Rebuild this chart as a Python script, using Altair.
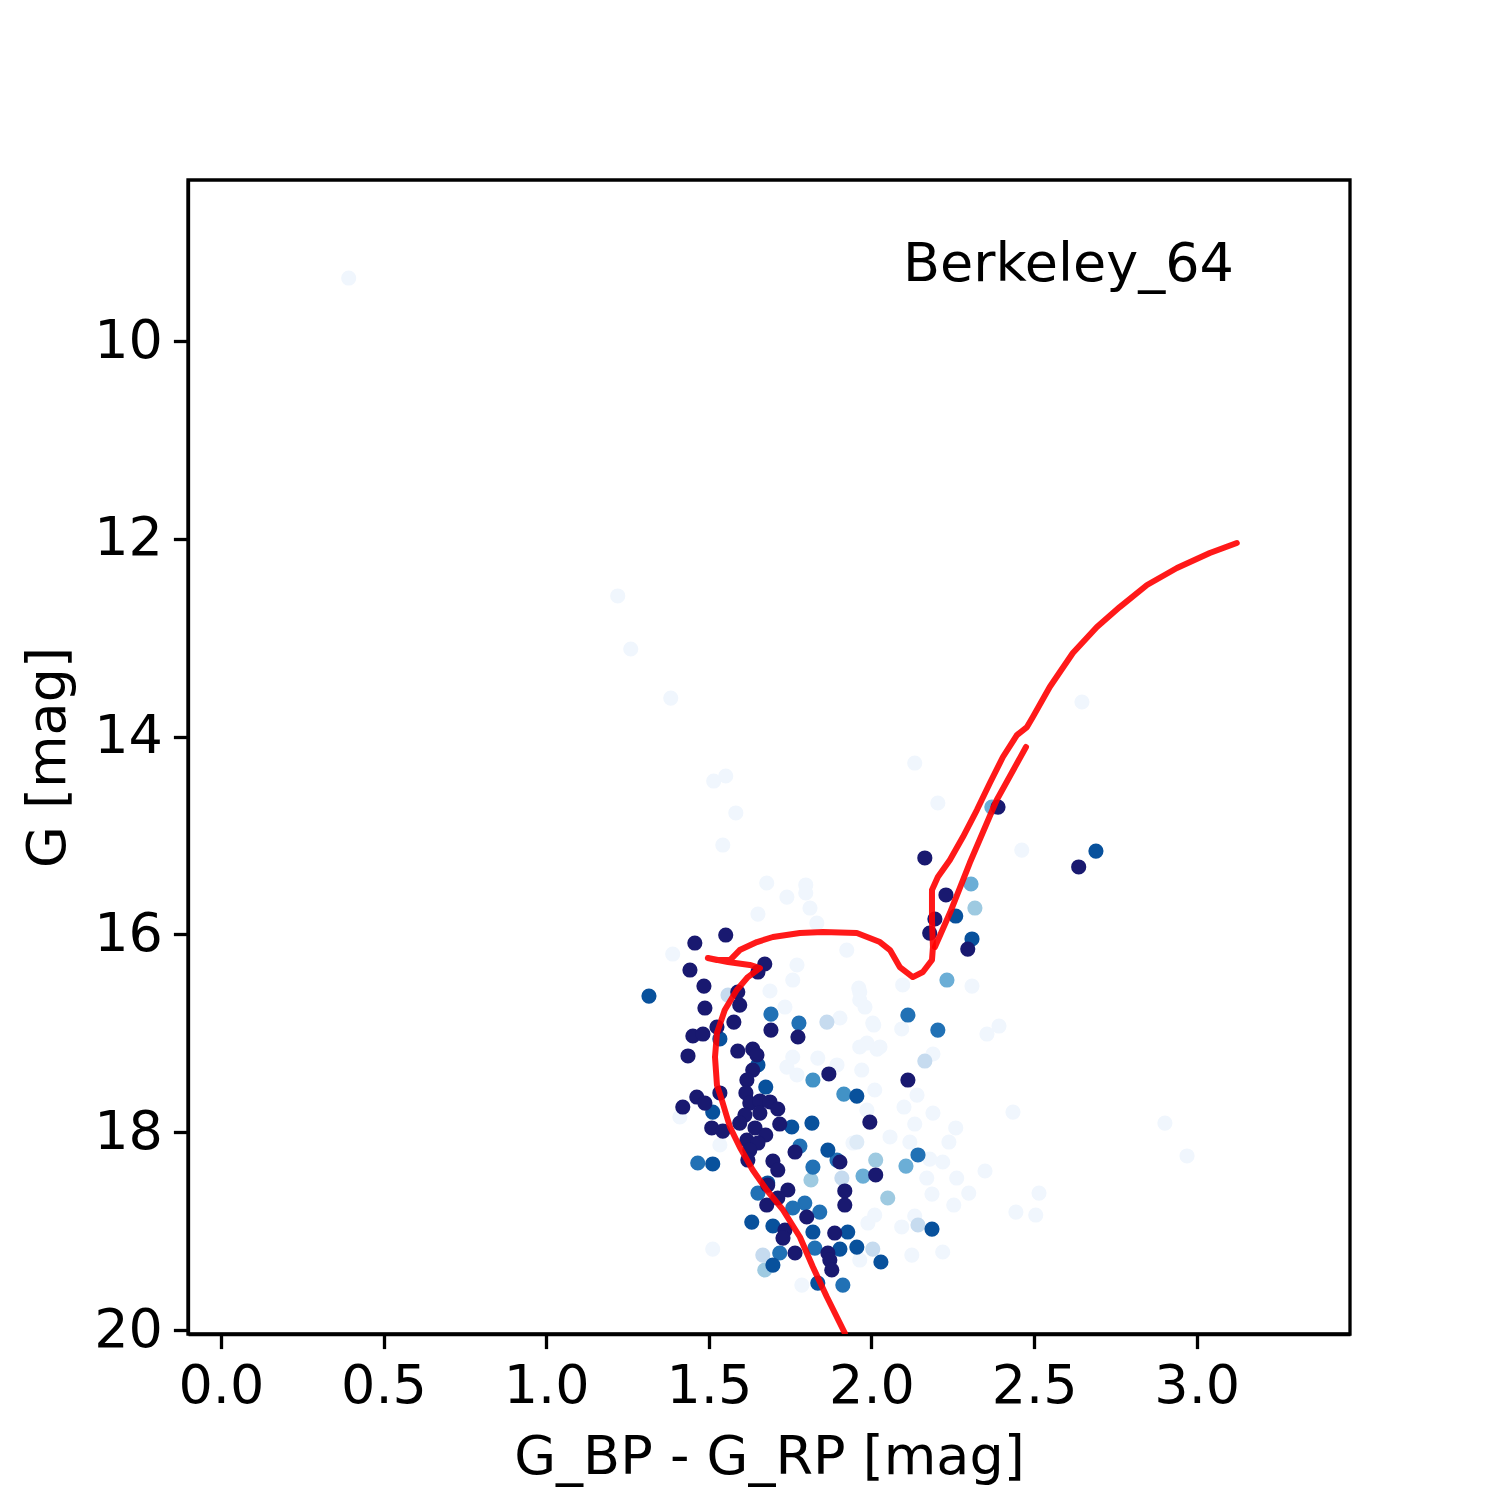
import altair as alt
import pandas as pd

# ---------------- cluster members, grouped by membership probability ----------------
# probability 1.0 (midnight blue)
m100_bp = [1.552, 1.457, 1.442, 1.672, 1.651, 1.485, 1.589, 1.595, 1.488, 1.691, 1.774, 1.525,
           1.577, 1.451, 1.482, 1.436, 1.589, 1.635, 1.648, 1.635, 1.617, 1.869, 1.614, 1.534,
           1.420, 1.463, 1.488, 1.626, 1.657, 1.688, 1.712, 1.611, 1.657, 1.509, 1.543, 1.595,
           1.642, 1.675, 1.718, 1.995, 1.617, 1.651, 1.626, 1.620, 1.765, 1.903, 1.697, 1.712,
           2.013, 1.681, 1.743, 1.712, 1.678, 1.918, 1.918, 1.801, 1.734, 1.728, 1.887, 1.765,
           1.866, 1.872, 1.878, 2.112, 2.179, 2.195, 2.229, 2.164, 2.296, 2.389, 2.637]
m100_g = [16.006, 16.087, 16.360, 16.299, 16.380, 16.522, 16.582, 16.714, 16.744, 16.967, 17.037, 16.936,
          16.886, 17.027, 17.007, 17.229, 17.179, 17.159, 17.219, 17.371, 17.472, 17.411, 17.603, 17.603,
          17.745, 17.644, 17.705, 17.705, 17.684, 17.694, 17.765, 17.826, 17.806, 17.957, 17.988, 17.907,
          17.957, 18.028, 17.917, 17.897, 18.079, 18.109, 18.180, 18.281, 18.200, 18.301, 18.291, 18.382,
          18.432, 18.534, 18.584, 18.665, 18.736, 18.594, 18.736, 18.857, 18.989, 19.070, 19.019, 19.221,
          19.221, 19.292, 19.393, 17.472, 15.986, 15.844, 15.601, 15.227, 16.148, 14.712, 15.318]

# probability ~0.85
m85_bp = [1.316, 1.534, 1.651, 1.675, 1.512, 1.955, 1.755, 1.817, 1.866, 1.512, 1.681, 1.632,
          1.697, 1.820, 1.927, 1.903, 1.955, 1.697, 1.835, 2.029, 2.186, 2.259, 2.309, 2.690]
m85_g = [16.623, 17.057, 17.320, 17.543, 17.796, 17.634, 17.947, 17.907, 18.180, 18.321, 18.513, 18.908,
         18.948, 19.009, 19.009, 19.181, 19.161, 19.343, 19.525, 19.312, 18.979, 15.814, 16.046, 15.157]

# probability ~0.7
m70_bp = [1.691, 1.777, 2.112, 2.204, 1.466, 1.651, 1.795, 1.758, 1.841, 1.718, 1.826, 1.912,
          2.143, 1.780, 1.894, 1.820]
m70_g = [16.805, 16.896, 16.815, 16.967, 18.311, 18.615, 18.716, 18.766, 18.807, 19.221, 19.171, 19.545,
         18.230, 18.140, 18.281, 18.352]

# probability ~0.55
m55_bp = [1.820, 1.915]
m55_g = [17.472, 17.614]

# probability ~0.45
m45_bp = [2.106, 1.974, 2.232, 2.370, 2.306]
m45_g = [18.342, 18.443, 16.461, 14.712, 15.490]

# probability ~0.35
m35_bp = [2.013, 2.050, 1.814, 2.318, 1.672]
m35_g = [18.281, 18.665, 18.483, 15.733, 19.393]

# probability ~0.22
m22_bp = [1.863, 2.164, 1.909, 2.143, 1.559, 2.004, 1.666]
m22_g = [16.886, 17.280, 18.463, 18.938, 16.613, 19.181, 19.242]

# probability ~0.1
m10_bp = [1.955]
m10_g = [18.099]

# probability ~0 (field stars)
m00_bp = [0.393, 1.220, 1.260, 1.383, 1.515, 1.552, 1.583, 1.543, 1.678, 1.740, 1.798, 1.798,
          1.811, 1.651, 1.832, 1.389, 2.133, 2.204, 2.462, 2.647, 2.309, 2.096, 1.961, 1.964,
          1.980, 2.093, 2.007, 2.355, 2.392, 2.189, 1.964, 2.017, 1.986, 1.970, 2.010, 2.140,
          2.100, 2.189, 1.986, 2.133, 2.259, 2.435, 2.238, 2.057, 2.118, 2.179, 2.219, 2.262,
          2.349, 2.170, 2.186, 2.299, 2.515, 2.253, 2.444, 2.505, 1.989, 2.010, 2.093, 2.133,
          1.964, 2.124, 2.219, 2.902, 2.970, 1.688, 1.734, 1.771, 1.758, 1.924, 1.964, 2.004,
          1.903, 2.026, 1.894, 1.835, 1.740, 1.771, 1.758, 1.411, 1.534, 1.943, 1.512, 1.786]
m00_g = [9.363, 12.578, 13.114, 13.610, 14.449, 14.398, 14.772, 15.096, 15.480, 15.622, 15.500, 15.581,
         15.733, 15.794, 15.885, 16.198, 14.267, 14.671, 15.147, 13.650, 16.522, 16.511, 16.542, 16.663,
         16.734, 16.956, 16.916, 17.007, 16.926, 17.209, 17.138, 17.159, 17.098, 17.371, 17.573, 17.624,
         17.745, 17.806, 17.776, 17.917, 17.957, 17.796, 18.099, 18.048, 18.099, 18.271, 18.301, 18.463,
         18.392, 18.463, 18.625, 18.615, 18.615, 18.736, 18.807, 18.837, 18.918, 18.837, 18.958, 18.847,
         19.292, 19.242, 19.211, 17.907, 18.240, 16.572, 16.734, 16.309, 16.461, 16.158, 16.582, 16.896,
         16.845, 17.138, 17.320, 17.250, 17.341, 17.421, 17.240, 17.846, 18.129, 18.109, 19.181, 19.545]

# ---------------- isochrone ----------------
iso1_bp = [1.918, 1.863, 1.820, 1.780, 1.728, 1.678, 1.635, 1.595, 1.565, 1.540, 1.525, 1.519,
           1.525, 1.549, 1.586, 1.620, 1.657, 1.626, 1.559, 1.497, 1.525, 1.565, 1.595, 1.648,
           1.697, 1.780, 1.851, 1.955, 2.026, 2.057, 2.087, 2.127, 2.158, 2.186, 2.189, 2.186,
           2.186, 2.204, 2.241, 2.281, 2.324, 2.364, 2.404, 2.447, 2.478, 2.496, 2.548, 2.619,
           2.693, 2.763, 2.847, 2.939, 3.040, 3.123]
iso1_g = [20.03, 19.666, 19.363, 19.059, 18.786, 18.584, 18.382, 18.149, 17.947, 17.674, 17.523, 17.239,
          16.997, 16.764, 16.562, 16.431, 16.340, 16.309, 16.279, 16.238, 16.259, 16.259, 16.158, 16.077,
          16.026, 15.986, 15.976, 15.986, 16.077, 16.158, 16.330, 16.431, 16.380, 16.259, 16.127, 15.854,
          15.551, 15.420, 15.248, 15.015, 14.742, 14.469, 14.206, 13.984, 13.903, 13.802, 13.498, 13.155,
          12.892, 12.690, 12.467, 12.295, 12.144, 12.042]
iso2_bp = [2.195, 2.241, 2.302, 2.385, 2.475]
iso2_g = [16.127, 15.784, 15.278, 14.641, 14.105]

cluster_name = ["Berkeley_64"]
x_ticks = [0.0, 0.5, 1.0, 1.5, 2.0, 2.5, 3.0]
y_ticks = [10, 12, 14, 16, 18, 20]

# ---------------- build tables ----------------
groups = [(0.0, m00_bp, m00_g), (0.1, m10_bp, m10_g), (0.22, m22_bp, m22_g),
          (0.35, m35_bp, m35_g), (0.45, m45_bp, m45_g), (0.55, m55_bp, m55_g),
          (0.7, m70_bp, m70_g), (0.85, m85_bp, m85_g), (1.0, m100_bp, m100_g)]
rows = []
for p, xs, ys in groups:
    for xv, yv in zip(xs, ys):
        rows.append({"bp_rp": xv, "g": yv, "prob": p})
stars = pd.DataFrame(rows)

iso_rows = []
for seg, (xs, ys) in enumerate([(iso1_bp, iso1_g), (iso2_bp, iso2_g)]):
    for i, (xv, yv) in enumerate(zip(xs, ys)):
        iso_rows.append({"bp_rp": xv, "g": yv, "seg": seg, "idx": i})
iso = pd.DataFrame(iso_rows)

FONT = "DejaVu Sans"
FS = 54
xs_scale = alt.Scale(domain=[-0.101, 3.471], nice=False, zero=False)
ys_scale = alt.Scale(domain=[8.372, 20.04], reverse=True, nice=False, zero=False)

x_axis = alt.Axis(values=x_ticks, format=".1f", title="G_BP - G_RP [mag]",
                  titleY=139, titleBaseline="alphabetic")
y_axis = alt.Axis(values=y_ticks, format="d", title="G [mag]",
                  titleX=-124, titleY=577, titleBaseline="alphabetic", titleAlign="center")

points = alt.Chart(stars).mark_circle(size=230, opacity=1, clip=True).encode(
    x=alt.X("bp_rp:Q", scale=xs_scale, axis=x_axis),
    y=alt.Y("g:Q", scale=ys_scale, axis=y_axis),
    color=alt.Color("prob:Q", legend=None,
                    scale=alt.Scale(domain=[0, 0.1, 0.22, 0.35, 0.45, 0.55, 0.7, 0.85, 1.0],
                                    range=["#f0f6fd", "#deebf7", "#c6dbef", "#9ecae1", "#6baed6",
                                           "#4292c6", "#2171b5", "#08519c", "#191970"])),
    order=alt.Order("prob:Q", sort="ascending"),
)

line = alt.Chart(iso).mark_line(color="#ff0000", strokeWidth=6, opacity=0.9, clip=True,
                                strokeJoin="round", strokeCap="round").encode(
    x=alt.X("bp_rp:Q", scale=xs_scale),
    y=alt.Y("g:Q", scale=ys_scale),
    detail="seg:N",
    order="idx:Q",
)

label = alt.Chart(pd.DataFrame({"name": cluster_name})).mark_text(
    font=FONT, fontSize=FS, align="left", baseline="alphabetic", color="black"
).encode(x=alt.value(715), y=alt.value(101), text="name:N")

chart = alt.layer(points, line, label).properties(
    width=1162, height=1154,
    autosize=alt.AutoSizeParams(type="none"),
    padding={"left": 180, "top": 172, "right": 142, "bottom": 158},
    background="white",
).configure_view(
    stroke="black", strokeWidth=3.3
).configure_axis(
    grid=False, domainColor="black", domainWidth=3.3, tickColor="black", tickWidth=3.3,
    tickSize=14.6, labelFont=FONT, labelFontSize=FS, labelColor="black", labelPadding=11,
    titleFont=FONT, titleFontSize=FS, titleFontWeight="normal", titleColor="black",
    labelOverlap=False, labelFlush=False,
)

chart.save("out.html", embed_options={"renderer": "svg", "actions": False})
